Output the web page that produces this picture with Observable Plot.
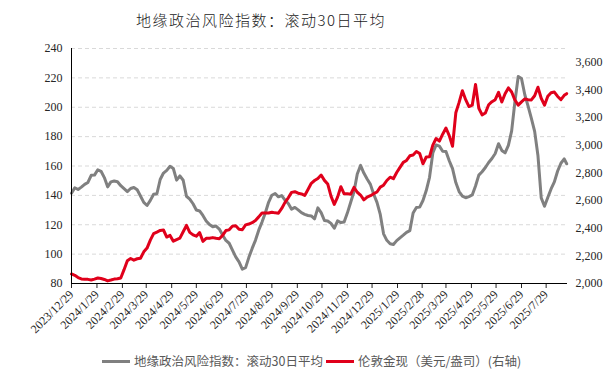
<!DOCTYPE html>
<html><head><meta charset="utf-8">
<script src="https://cdn.jsdelivr.net/npm/d3@7"></script>
<script src="https://cdn.jsdelivr.net/npm/@observablehq/plot@0.6"></script>
<style>
body{margin:0;background:#fff;}
#wrap{position:relative;width:616px;height:380px;overflow:hidden;background:#fff;}
#title{position:absolute;top:10px;left:0;width:522px;text-align:center;font-family:"Noto Sans CJK SC",sans-serif;font-weight:300;font-size:15px;letter-spacing:1.5px;color:#1a1a1a;line-height:20px;}
#chart{position:absolute;top:35px;left:0;}
#legend{position:absolute;top:352px;left:102px;display:flex;align-items:center;font-family:"Noto Sans CJK SC",sans-serif;font-size:12.5px;color:#595959;line-height:18px;white-space:nowrap;}
.sw{display:inline-block;width:28px;height:3px;margin-right:4px;}
.item{display:flex;align-items:center;margin-right:3px;}
</style>
</head><body>
<div id="wrap">
<div id="title">地缘政治风险指数：滚动30日平均</div>
<div id="chart"></div>
<div id="legend"></div>
</div>
<script>
const dates = [
"2023-12-29","2024-01-02","2024-01-06","2024-01-10","2024-01-14","2024-01-18","2024-01-22","2024-01-26","2024-01-30","2024-02-03",
"2024-02-07","2024-02-11","2024-02-15","2024-02-19","2024-02-23","2024-02-27","2024-03-02","2024-03-06","2024-03-10","2024-03-14",
"2024-03-18","2024-03-22","2024-03-26","2024-03-30","2024-04-03","2024-04-07","2024-04-11","2024-04-15","2024-04-19","2024-04-23",
"2024-04-27","2024-05-01","2024-05-05","2024-05-09","2024-05-13","2024-05-17","2024-05-21","2024-05-25","2024-05-29","2024-06-02",
"2024-06-06","2024-06-10","2024-06-14","2024-06-18","2024-06-22","2024-06-26","2024-06-30","2024-07-04","2024-07-08","2024-07-12",
"2024-07-16","2024-07-20","2024-07-24","2024-07-28","2024-08-01","2024-08-05","2024-08-09","2024-08-13","2024-08-17","2024-08-21",
"2024-08-25","2024-08-29","2024-09-02","2024-09-06","2024-09-10","2024-09-14","2024-09-18","2024-09-22","2024-09-26","2024-09-30",
"2024-10-04","2024-10-08","2024-10-12","2024-10-16","2024-10-20","2024-10-24","2024-10-28","2024-11-01","2024-11-05","2024-11-09",
"2024-11-13","2024-11-17","2024-11-21","2024-11-25","2024-11-29","2024-12-03","2024-12-07","2024-12-11","2024-12-15","2024-12-19",
"2024-12-23","2024-12-27","2024-12-31","2025-01-04","2025-01-08","2025-01-12","2025-01-16","2025-01-20","2025-01-24","2025-01-28",
"2025-02-01","2025-02-05","2025-02-09","2025-02-13","2025-02-17","2025-02-21","2025-02-25","2025-03-01","2025-03-05","2025-03-09",
"2025-03-13","2025-03-17","2025-03-21","2025-03-25","2025-03-29","2025-04-02","2025-04-06","2025-04-10","2025-04-14","2025-04-18",
"2025-04-22","2025-04-26","2025-04-30","2025-05-04","2025-05-08","2025-05-12","2025-05-16","2025-05-20","2025-05-24","2025-05-28",
"2025-06-01","2025-06-05","2025-06-09","2025-06-13","2025-06-17","2025-06-21","2025-06-25","2025-06-29","2025-07-03","2025-07-07",
"2025-07-11","2025-07-15","2025-07-19","2025-07-23","2025-07-27","2025-07-31","2025-08-04","2025-08-08","2025-08-12","2025-08-16",
"2025-08-20","2025-08-23"
];
const gpr = [
141.5,145.2,144,145.6,147.5,148.8,153.7,153.8,157.4,156.4,
152.1,145.8,149.2,149.8,149.3,146.6,144.6,142.6,144.7,145.4,
143.8,139.6,135.2,133.1,136.6,140.8,141.1,150.8,155.2,157,
159.8,158.3,150.4,153.3,150.3,139.4,137.5,134.3,130,129.4,
126.3,122.6,120.1,118.6,119.1,117.1,113,109.3,107.4,102.7,
98.1,94.7,89.8,90.8,97.8,103.9,109.4,116.3,121.8,128,
135.3,140.1,141.3,139,139.9,136.8,134.5,130.6,131.8,130.1,
128.2,127.1,126.3,126,124,131.5,128.3,122.9,122.6,120.9,
117.6,122.6,121.5,121.8,128.1,135.3,142.5,154.5,160.4,155.2,
151.1,147.5,140.8,135.2,127,113.8,109.4,107.1,106.6,109.2,
111.1,112.9,114.8,116,128,131.7,132,136.5,143.3,152.3,
168.9,174.3,173.5,170,169.8,163.6,158.2,148.7,142.6,139.5,
138.4,139.2,140.3,146.4,153.8,156.1,159,162.4,165.1,168.5,
175.2,170.6,168.9,174,183.9,203.9,221,219.5,208.5,200.8,
192.4,183.6,167.2,138.3,132.6,138.5,144.4,149.2,156.6,161.9,
164.8,161.5
];
const gold = [
2069,2059,2043,2033,2030,2030,2025,2032,2040,2036,
2029,2019,2025,2032,2034,2040,2100,2165,2181,2169,
2179,2183,2229,2256,2314,2361,2372,2384,2387,2336,
2348,2306,2318,2328,2374,2420,2370,2352,2342,2368,
2305,2327,2327,2332,2327,2324,2348,2383,2388,2415,
2418,2393,2389,2424,2430,2440,2456,2482,2510,2510,
2510,2516,2511,2509,2543,2587,2620,2659,2664,2653,
2648,2637,2680,2725,2745,2760,2785,2746,2720,2632,
2572,2625,2700,2649,2649,2646,2695,2660,2640,2605,
2625,2635,2650,2662,2697,2711,2745,2769,2758,2803,
2840,2876,2890,2924,2930,2955,2940,2866,2915,2917,
3001,3049,3030,3080,3125,3070,2993,3235,3310,3395,
3330,3280,3290,3440,3268,3220,3233,3293,3315,3330,
3383,3313,3373,3415,3385,3327,3290,3314,3335,3330,
3328,3358,3420,3340,3290,3355,3380,3385,3353,3330,
3361,3373
];
const xTickDates = ["2023-12-29","2024-01-29","2024-02-29","2024-03-29","2024-04-29","2024-05-29","2024-06-29","2024-07-29","2024-08-29","2024-09-29","2024-10-29","2024-11-29","2024-12-29","2025-01-29","2025-02-28","2025-03-29","2025-04-29","2025-05-29","2025-06-29","2025-07-29"];
const xTickLabels = ["2023/12/29","2024/1/29","2024/2/29","2024/3/29","2024/4/29","2024/5/29","2024/6/29","2024/7/29","2024/8/29","2024/9/29","2024/10/29","2024/11/29","2024/12/29","2025/1/29","2025/2/28","2025/3/29","2025/4/29","2025/5/29","2025/6/29","2025/7/29"];
const leftTicks = [80,100,120,140,160,180,200,220,240];
const rightTicks = [2000,2200,2400,2600,2800,3000,3200,3400,3600];
const seriesNames = ["地缘政治风险指数：滚动30日平均","伦敦金现（美元/盎司）(右轴)"];
const seriesColors = ["#808080","#e0001b"];

const leftDomain = [80,240];
const rightDomain = [2000,3700];
const toLeft = g => leftDomain[0] + (g - rightDomain[0]) * (leftDomain[1]-leftDomain[0]) / (rightDomain[1]-rightDomain[0]);
const fromLeft = v => rightDomain[0] + (v - leftDomain[0]) * (rightDomain[1]-rightDomain[0]) / (leftDomain[1]-leftDomain[0]);

const rows = dates.map((d,i)=>({date:new Date(d), gpr:gpr[i], gold:gold[i]}));
const tickMap = new Map(xTickDates.map((d,i)=>[+new Date(d), xTickLabels[i]]));

const chart = Plot.plot({
  width:616, height:313,
  marginLeft:71, marginRight:49, marginTop:13, marginBottom:65,
  style:{fontFamily:'"Liberation Serif","Times New Roman",serif', fontSize:"12px", color:"#262626", background:"#fff"},
  x:{type:"utc", domain:[new Date("2023-12-29"), new Date("2025-08-24")]},
  y:{domain:leftDomain},
  marks:[
    Plot.gridY(leftTicks.filter(t=>t>80), {stroke:"#d9d9d9", strokeOpacity:1, strokeDasharray:"4,3"}),
    Plot.axisY(leftTicks, {anchor:"left", tickSize:0, tickPadding:9, label:null}),
    Plot.axisY(rightTicks.map(toLeft), {anchor:"right", tickSize:0, tickPadding:8, tickFormat:v=>d3.format(",")(Math.round(fromLeft(v))), label:null}),
    Plot.axisX(xTickDates.map(d=>new Date(d)), {anchor:"bottom", tickSize:5, tickPadding:4, tickRotate:-45, tickFormat:d=>tickMap.get(+d), label:null}),
    Plot.line(rows, {x:"date", y:"gpr", stroke:seriesColors[0], strokeWidth:3, strokeLinejoin:"round"}),
    Plot.line(rows, {x:"date", y:d=>toLeft(d.gold), stroke:seriesColors[1], strokeWidth:3, strokeLinejoin:"round"}),
    Plot.ruleX([new Date("2023-12-29")], {stroke:"#000", strokeWidth:1}),
    Plot.ruleY([80], {stroke:"#000", strokeWidth:1})
  ]
});
document.getElementById("chart").appendChild(chart);

const legend = document.getElementById("legend");
seriesNames.forEach((n,i)=>{
  const it = document.createElement("span"); it.className="item";
  const sw = document.createElement("span"); sw.className="sw"; sw.style.background=seriesColors[i];
  const tx = document.createElement("span"); tx.textContent=n;
  it.appendChild(sw); it.appendChild(tx); legend.appendChild(it);
});
</script>
</body></html>
